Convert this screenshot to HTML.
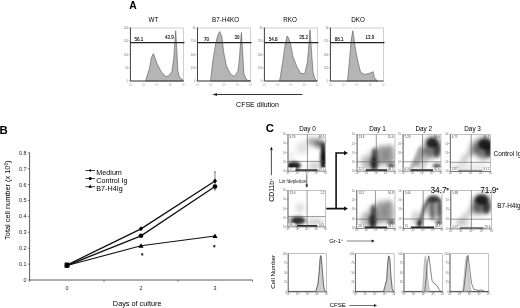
<!DOCTYPE html>
<html><head><meta charset="utf-8"><style>
html,body{margin:0;padding:0;background:#fff;width:520px;height:308px;overflow:hidden}
text{font-family:"Liberation Sans",sans-serif}
svg{display:block;filter:grayscale(1) blur(0.3px)}
</style></head><body>
<svg width="520" height="308" viewBox="0 0 520 308" font-family="'Liberation Sans', sans-serif">
<text x="129.2" y="8.5" font-size="10.3" font-weight="bold" font-family="'Liberation Sans', sans-serif">A</text>
<text x="153.4" y="22.3" font-size="6.3" text-anchor="middle" font-family="'Liberation Sans', sans-serif">WT</text>
<text x="225.6" y="22.3" font-size="6.3" text-anchor="middle" font-family="'Liberation Sans', sans-serif">B7-H4KO</text>
<text x="290.1" y="22.3" font-size="6.3" text-anchor="middle" font-family="'Liberation Sans', sans-serif">RKO</text>
<text x="358.1" y="22.3" font-size="6.3" text-anchor="middle" font-family="'Liberation Sans', sans-serif">DKO</text>
<rect x="130.4" y="28.0" width="53.2" height="53.0" fill="none" stroke="#bbb" stroke-width="0.7"/>
<polygon points="145.5,81.0 149.4,68.8 151.3,58.1 153.3,53.6 154.8,57.1 156.8,63.0 159.1,67.8 162.0,72.7 166.0,76.6 168.9,75.6 171.8,71.7 173.7,59.0 175.1,39.6 175.7,30.8 176.7,47.4 177.8,70.8 179.6,77.6 182.5,79.5 183.5,81.0" fill="#b5b5b5" stroke="#555" stroke-width="0.6"/>
<path d="M130.4 27.5 V81.0 H183.60000000000002" fill="none" stroke="#333" stroke-width="0.9"/>
<line x1="130.4" y1="42.7" x2="184.40000000000003" y2="42.7" stroke="#222" stroke-width="1.2"/>
<line x1="129.20000000000002" y1="28.0" x2="130.4" y2="28.0" stroke="#666" stroke-width="0.5"/>
<text x="128.4" y="29.0" font-size="2.8" fill="#777" text-anchor="end" font-family="'Liberation Sans', sans-serif">200</text>
<line x1="129.20000000000002" y1="41.2" x2="130.4" y2="41.2" stroke="#666" stroke-width="0.5"/>
<text x="128.4" y="42.2" font-size="2.8" fill="#777" text-anchor="end" font-family="'Liberation Sans', sans-serif">150</text>
<line x1="129.20000000000002" y1="54.5" x2="130.4" y2="54.5" stroke="#666" stroke-width="0.5"/>
<text x="128.4" y="55.5" font-size="2.8" fill="#777" text-anchor="end" font-family="'Liberation Sans', sans-serif">100</text>
<line x1="129.20000000000002" y1="67.8" x2="130.4" y2="67.8" stroke="#666" stroke-width="0.5"/>
<text x="128.4" y="68.8" font-size="2.8" fill="#777" text-anchor="end" font-family="'Liberation Sans', sans-serif">50</text>
<line x1="129.20000000000002" y1="81.0" x2="130.4" y2="81.0" stroke="#666" stroke-width="0.5"/>
<text x="128.4" y="82.0" font-size="2.8" fill="#777" text-anchor="end" font-family="'Liberation Sans', sans-serif">0</text>
<text x="130.4" y="86.3" font-size="2.6" fill="#aaa" text-anchor="middle" font-family="'Liberation Sans', sans-serif">10<tspan font-size="1.7" dy="-0.9">0</tspan></text>
<text x="143.7" y="86.3" font-size="2.6" fill="#aaa" text-anchor="middle" font-family="'Liberation Sans', sans-serif">10<tspan font-size="1.7" dy="-0.9">1</tspan></text>
<text x="157.0" y="86.3" font-size="2.6" fill="#aaa" text-anchor="middle" font-family="'Liberation Sans', sans-serif">10<tspan font-size="1.7" dy="-0.9">2</tspan></text>
<text x="170.3" y="86.3" font-size="2.6" fill="#aaa" text-anchor="middle" font-family="'Liberation Sans', sans-serif">10<tspan font-size="1.7" dy="-0.9">3</tspan></text>
<text x="183.6" y="86.3" font-size="2.6" fill="#aaa" text-anchor="middle" font-family="'Liberation Sans', sans-serif">10<tspan font-size="1.7" dy="-0.9">4</tspan></text>
<text x="134.6" y="41.4" font-size="4.5" fill="#111" stroke="#111" stroke-width="0.12" font-family="'Liberation Sans', sans-serif">56.1</text>
<text x="165.0" y="38.8" font-size="4.5" fill="#111" stroke="#111" stroke-width="0.12" font-family="'Liberation Sans', sans-serif">43.9</text>
<rect x="197.5" y="28.0" width="53.2" height="53.0" fill="none" stroke="#bbb" stroke-width="0.7"/>
<polygon points="210.5,81.0 212.9,60.4 215.6,44.2 217.5,36.2 219.6,31.5 221.8,36.2 223.7,52.3 226.4,65.8 230.4,73.9 234.4,76.5 237.9,71.2 239.3,60.4 240.6,41.5 241.4,32.5 242.5,49.6 243.9,73.9 246.5,79.8 250.5,81.0" fill="#b5b5b5" stroke="#555" stroke-width="0.6"/>
<path d="M197.5 27.5 V81.0 H250.7" fill="none" stroke="#333" stroke-width="0.9"/>
<line x1="197.5" y1="42.7" x2="251.5" y2="42.7" stroke="#222" stroke-width="1.2"/>
<line x1="196.3" y1="28.0" x2="197.5" y2="28.0" stroke="#666" stroke-width="0.5"/>
<text x="195.5" y="29.0" font-size="2.8" fill="#777" text-anchor="end" font-family="'Liberation Sans', sans-serif">1k</text>
<line x1="196.3" y1="41.2" x2="197.5" y2="41.2" stroke="#666" stroke-width="0.5"/>
<text x="195.5" y="42.2" font-size="2.8" fill="#777" text-anchor="end" font-family="'Liberation Sans', sans-serif">750</text>
<line x1="196.3" y1="54.5" x2="197.5" y2="54.5" stroke="#666" stroke-width="0.5"/>
<text x="195.5" y="55.5" font-size="2.8" fill="#777" text-anchor="end" font-family="'Liberation Sans', sans-serif">500</text>
<line x1="196.3" y1="67.8" x2="197.5" y2="67.8" stroke="#666" stroke-width="0.5"/>
<text x="195.5" y="68.8" font-size="2.8" fill="#777" text-anchor="end" font-family="'Liberation Sans', sans-serif">250</text>
<line x1="196.3" y1="81.0" x2="197.5" y2="81.0" stroke="#666" stroke-width="0.5"/>
<text x="195.5" y="82.0" font-size="2.8" fill="#777" text-anchor="end" font-family="'Liberation Sans', sans-serif">0</text>
<text x="197.5" y="86.3" font-size="2.6" fill="#aaa" text-anchor="middle" font-family="'Liberation Sans', sans-serif">10<tspan font-size="1.7" dy="-0.9">0</tspan></text>
<text x="210.8" y="86.3" font-size="2.6" fill="#aaa" text-anchor="middle" font-family="'Liberation Sans', sans-serif">10<tspan font-size="1.7" dy="-0.9">1</tspan></text>
<text x="224.1" y="86.3" font-size="2.6" fill="#aaa" text-anchor="middle" font-family="'Liberation Sans', sans-serif">10<tspan font-size="1.7" dy="-0.9">2</tspan></text>
<text x="237.4" y="86.3" font-size="2.6" fill="#aaa" text-anchor="middle" font-family="'Liberation Sans', sans-serif">10<tspan font-size="1.7" dy="-0.9">3</tspan></text>
<text x="250.7" y="86.3" font-size="2.6" fill="#aaa" text-anchor="middle" font-family="'Liberation Sans', sans-serif">10<tspan font-size="1.7" dy="-0.9">4</tspan></text>
<text x="204.0" y="41.4" font-size="4.5" fill="#111" stroke="#111" stroke-width="0.12" font-family="'Liberation Sans', sans-serif">70</text>
<text x="234.5" y="38.8" font-size="4.5" fill="#111" stroke="#111" stroke-width="0.12" font-family="'Liberation Sans', sans-serif">30</text>
<rect x="264.4" y="28.0" width="53.2" height="53.0" fill="none" stroke="#bbb" stroke-width="0.7"/>
<polygon points="279.2,81.0 280.0,78.8 282.7,62.0 285.3,43.8 287.1,36.0 288.3,37.5 290.5,43.8 293.0,56.8 297.0,67.0 300.9,73.6 304.8,73.6 307.4,62.0 309.2,41.2 310.0,29.8 311.2,46.4 313.0,72.3 315.0,78.8 317.0,81.0" fill="#b5b5b5" stroke="#555" stroke-width="0.6"/>
<path d="M264.4 27.5 V81.0 H317.59999999999997" fill="none" stroke="#333" stroke-width="0.9"/>
<line x1="264.4" y1="42.7" x2="318.4" y2="42.7" stroke="#222" stroke-width="1.2"/>
<line x1="263.2" y1="28.0" x2="264.4" y2="28.0" stroke="#666" stroke-width="0.5"/>
<text x="262.4" y="29.0" font-size="2.8" fill="#777" text-anchor="end" font-family="'Liberation Sans', sans-serif">1k</text>
<line x1="263.2" y1="41.2" x2="264.4" y2="41.2" stroke="#666" stroke-width="0.5"/>
<text x="262.4" y="42.2" font-size="2.8" fill="#777" text-anchor="end" font-family="'Liberation Sans', sans-serif">750</text>
<line x1="263.2" y1="54.5" x2="264.4" y2="54.5" stroke="#666" stroke-width="0.5"/>
<text x="262.4" y="55.5" font-size="2.8" fill="#777" text-anchor="end" font-family="'Liberation Sans', sans-serif">500</text>
<line x1="263.2" y1="67.8" x2="264.4" y2="67.8" stroke="#666" stroke-width="0.5"/>
<text x="262.4" y="68.8" font-size="2.8" fill="#777" text-anchor="end" font-family="'Liberation Sans', sans-serif">250</text>
<line x1="263.2" y1="81.0" x2="264.4" y2="81.0" stroke="#666" stroke-width="0.5"/>
<text x="262.4" y="82.0" font-size="2.8" fill="#777" text-anchor="end" font-family="'Liberation Sans', sans-serif">0</text>
<text x="264.4" y="86.3" font-size="2.6" fill="#aaa" text-anchor="middle" font-family="'Liberation Sans', sans-serif">10<tspan font-size="1.7" dy="-0.9">0</tspan></text>
<text x="277.7" y="86.3" font-size="2.6" fill="#aaa" text-anchor="middle" font-family="'Liberation Sans', sans-serif">10<tspan font-size="1.7" dy="-0.9">1</tspan></text>
<text x="291.0" y="86.3" font-size="2.6" fill="#aaa" text-anchor="middle" font-family="'Liberation Sans', sans-serif">10<tspan font-size="1.7" dy="-0.9">2</tspan></text>
<text x="304.3" y="86.3" font-size="2.6" fill="#aaa" text-anchor="middle" font-family="'Liberation Sans', sans-serif">10<tspan font-size="1.7" dy="-0.9">3</tspan></text>
<text x="317.6" y="86.3" font-size="2.6" fill="#aaa" text-anchor="middle" font-family="'Liberation Sans', sans-serif">10<tspan font-size="1.7" dy="-0.9">4</tspan></text>
<text x="268.7" y="41.4" font-size="4.5" fill="#111" stroke="#111" stroke-width="0.12" font-family="'Liberation Sans', sans-serif">54.8</text>
<text x="299.3" y="38.8" font-size="4.5" fill="#111" stroke="#111" stroke-width="0.12" font-family="'Liberation Sans', sans-serif">35.2</text>
<rect x="330.4" y="28.0" width="53.2" height="53.0" fill="none" stroke="#bbb" stroke-width="0.7"/>
<polygon points="346.8,81.0 347.6,79.6 349.4,62.0 351.0,41.2 352.8,30.8 354.0,38.0 355.4,49.0 358.0,62.0 360.6,72.3 364.5,74.4 368.4,73.6 372.3,72.3 373.2,71.5 374.4,77.5 376.2,80.0 377.5,81.0" fill="#b5b5b5" stroke="#555" stroke-width="0.6"/>
<path d="M330.4 27.5 V81.0 H383.59999999999997" fill="none" stroke="#333" stroke-width="0.9"/>
<line x1="330.4" y1="42.7" x2="384.4" y2="42.7" stroke="#222" stroke-width="1.2"/>
<line x1="329.2" y1="28.0" x2="330.4" y2="28.0" stroke="#666" stroke-width="0.5"/>
<text x="328.4" y="29.0" font-size="2.8" fill="#777" text-anchor="end" font-family="'Liberation Sans', sans-serif">1k</text>
<line x1="329.2" y1="41.2" x2="330.4" y2="41.2" stroke="#666" stroke-width="0.5"/>
<text x="328.4" y="42.2" font-size="2.8" fill="#777" text-anchor="end" font-family="'Liberation Sans', sans-serif">750</text>
<line x1="329.2" y1="54.5" x2="330.4" y2="54.5" stroke="#666" stroke-width="0.5"/>
<text x="328.4" y="55.5" font-size="2.8" fill="#777" text-anchor="end" font-family="'Liberation Sans', sans-serif">500</text>
<line x1="329.2" y1="67.8" x2="330.4" y2="67.8" stroke="#666" stroke-width="0.5"/>
<text x="328.4" y="68.8" font-size="2.8" fill="#777" text-anchor="end" font-family="'Liberation Sans', sans-serif">250</text>
<line x1="329.2" y1="81.0" x2="330.4" y2="81.0" stroke="#666" stroke-width="0.5"/>
<text x="328.4" y="82.0" font-size="2.8" fill="#777" text-anchor="end" font-family="'Liberation Sans', sans-serif">0</text>
<text x="330.4" y="86.3" font-size="2.6" fill="#aaa" text-anchor="middle" font-family="'Liberation Sans', sans-serif">10<tspan font-size="1.7" dy="-0.9">0</tspan></text>
<text x="343.7" y="86.3" font-size="2.6" fill="#aaa" text-anchor="middle" font-family="'Liberation Sans', sans-serif">10<tspan font-size="1.7" dy="-0.9">1</tspan></text>
<text x="357.0" y="86.3" font-size="2.6" fill="#aaa" text-anchor="middle" font-family="'Liberation Sans', sans-serif">10<tspan font-size="1.7" dy="-0.9">2</tspan></text>
<text x="370.3" y="86.3" font-size="2.6" fill="#aaa" text-anchor="middle" font-family="'Liberation Sans', sans-serif">10<tspan font-size="1.7" dy="-0.9">3</tspan></text>
<text x="383.6" y="86.3" font-size="2.6" fill="#aaa" text-anchor="middle" font-family="'Liberation Sans', sans-serif">10<tspan font-size="1.7" dy="-0.9">4</tspan></text>
<text x="334.8" y="41.4" font-size="4.5" fill="#111" stroke="#111" stroke-width="0.12" font-family="'Liberation Sans', sans-serif">88.1</text>
<text x="365.5" y="38.8" font-size="4.5" fill="#111" stroke="#111" stroke-width="0.12" font-family="'Liberation Sans', sans-serif">13.9</text>
<line x1="215" y1="94.5" x2="302.5" y2="94.5" stroke="#222" stroke-width="0.9"/>
<polygon points="212.5,94.5 217,92.9 217,96.1" fill="#222"/>
<text x="257.5" y="107" font-size="7" text-anchor="middle" font-family="'Liberation Sans', sans-serif">CFSE dilution</text>
<text x="-0.5" y="133.7" font-size="11.4" font-weight="bold" font-family="'Liberation Sans', sans-serif">B</text>
<path d="M29.6 152.5 V280.0 H252.5" fill="none" stroke="#333" stroke-width="0.8"/>
<line x1="27.8" y1="280.0" x2="29.6" y2="280.0" stroke="#333" stroke-width="0.6"/>
<text x="26.6" y="281.9" font-size="5.4" text-anchor="end" fill="#222" font-family="'Liberation Sans', sans-serif">0</text>
<line x1="27.8" y1="264.1" x2="29.6" y2="264.1" stroke="#333" stroke-width="0.6"/>
<text x="26.6" y="266.0" font-size="5.4" text-anchor="end" fill="#222" font-family="'Liberation Sans', sans-serif">0.1</text>
<line x1="27.8" y1="248.2" x2="29.6" y2="248.2" stroke="#333" stroke-width="0.6"/>
<text x="26.6" y="250.1" font-size="5.4" text-anchor="end" fill="#222" font-family="'Liberation Sans', sans-serif">0.2</text>
<line x1="27.8" y1="232.3" x2="29.6" y2="232.3" stroke="#333" stroke-width="0.6"/>
<text x="26.6" y="234.2" font-size="5.4" text-anchor="end" fill="#222" font-family="'Liberation Sans', sans-serif">0.3</text>
<line x1="27.8" y1="216.4" x2="29.6" y2="216.4" stroke="#333" stroke-width="0.6"/>
<text x="26.6" y="218.3" font-size="5.4" text-anchor="end" fill="#222" font-family="'Liberation Sans', sans-serif">0.4</text>
<line x1="27.8" y1="200.5" x2="29.6" y2="200.5" stroke="#333" stroke-width="0.6"/>
<text x="26.6" y="202.4" font-size="5.4" text-anchor="end" fill="#222" font-family="'Liberation Sans', sans-serif">0.5</text>
<line x1="27.8" y1="184.6" x2="29.6" y2="184.6" stroke="#333" stroke-width="0.6"/>
<text x="26.6" y="186.5" font-size="5.4" text-anchor="end" fill="#222" font-family="'Liberation Sans', sans-serif">0.6</text>
<line x1="27.8" y1="168.7" x2="29.6" y2="168.7" stroke="#333" stroke-width="0.6"/>
<text x="26.6" y="170.6" font-size="5.4" text-anchor="end" fill="#222" font-family="'Liberation Sans', sans-serif">0.7</text>
<line x1="27.8" y1="152.8" x2="29.6" y2="152.8" stroke="#333" stroke-width="0.6"/>
<text x="26.6" y="154.7" font-size="5.4" text-anchor="end" fill="#222" font-family="'Liberation Sans', sans-serif">0.8</text>
<line x1="29.6" y1="280.0" x2="29.6" y2="281.8" stroke="#333" stroke-width="0.6"/>
<line x1="104" y1="280.0" x2="104" y2="281.8" stroke="#333" stroke-width="0.6"/>
<line x1="178" y1="280.0" x2="178" y2="281.8" stroke="#333" stroke-width="0.6"/>
<line x1="252.5" y1="280.0" x2="252.5" y2="281.8" stroke="#333" stroke-width="0.6"/>
<text x="67" y="290" font-size="5.4" text-anchor="middle" fill="#222" font-family="'Liberation Sans', sans-serif">0</text>
<text x="141" y="290" font-size="5.4" text-anchor="middle" fill="#222" font-family="'Liberation Sans', sans-serif">2</text>
<text x="215" y="290" font-size="5.4" text-anchor="middle" fill="#222" font-family="'Liberation Sans', sans-serif">3</text>
<text x="137.2" y="306.3" font-size="7.3" text-anchor="middle" font-family="'Liberation Sans', sans-serif">Days of culture</text>
<text transform="translate(10.3,200.2) rotate(-90)" font-size="7.4" text-anchor="middle" font-family="'Liberation Sans', sans-serif">Total cell number (x 10<tspan font-size="4.5" dy="-2.5">6</tspan><tspan dy="2.5">)</tspan></text>
<polyline points="67.0,265.0 141.0,228.8 215.0,181.0" fill="none" stroke="#111" stroke-width="1.35"/>
<polyline points="67.0,265.5 141.0,235.8 215.0,186.5" fill="none" stroke="#111" stroke-width="1.35"/>
<polyline points="67.0,265.5 141.0,245.8 215.0,236.0" fill="none" stroke="#111" stroke-width="1.1"/>
<line x1="215" y1="172" x2="215" y2="190" stroke="#333" stroke-width="0.6"/>
<line x1="213.8" y1="172" x2="216.2" y2="172" stroke="#333" stroke-width="0.6"/>
<line x1="213.8" y1="190" x2="216.2" y2="190" stroke="#333" stroke-width="0.6"/>
<polygon points="67,262.6 69.04,265 67,267.4 64.96,265" fill="#000"/>
<polygon points="141,226.35 143.04,228.75 141,231.15 138.96,228.75" fill="#000"/>
<polygon points="215,178.6 217.04,181 215,183.4 212.96,181" fill="#000"/>
<circle cx="67" cy="265.5" r="2.35" fill="#000"/>
<circle cx="141" cy="235.75" r="2.35" fill="#000"/>
<circle cx="215" cy="186.5" r="2.35" fill="#000"/>
<polygon points="67,262.9 69.6,267.58 64.4,267.58" fill="#000"/>
<polygon points="141,243.15 143.6,247.83 138.4,247.83" fill="#000"/>
<polygon points="215,233.4 217.6,238.08 212.4,238.08" fill="#000"/>
<rect x="64.6" y="262.6" width="4.8" height="4.8" fill="#000"/>
<path d="M142.2 253.1V255.70000000000002M141.069 253.75L143.331 255.05M141.069 255.05L143.331 253.75" stroke="#111" stroke-width="0.8"/>
<path d="M214.3 244.89999999999998V247.5M213.169 245.54999999999998L215.431 246.85M213.169 246.85L215.431 245.54999999999998" stroke="#111" stroke-width="0.8"/>
<line x1="85.4" y1="170.5" x2="95" y2="170.5" stroke="#111" stroke-width="0.8"/>
<polygon points="90.2,169.0 91.47500000000001,170.5 90.2,172.0 88.925,170.5" fill="#000"/>
<text x="96.3" y="174.7" font-size="7.2" font-family="'Liberation Sans', sans-serif">Medium</text>
<line x1="85.4" y1="178.5" x2="95" y2="178.5" stroke="#111" stroke-width="0.8"/>
<circle cx="90.2" cy="178.5" r="1.5" fill="#000"/>
<text x="96.3" y="182.7" font-size="7.2" font-family="'Liberation Sans', sans-serif">Control Ig</text>
<line x1="85.4" y1="186.7" x2="95" y2="186.7" stroke="#111" stroke-width="0.8"/>
<polygon points="90.2,184.59999999999997 92.0,187.83999999999997 88.4,187.83999999999997" fill="#000"/>
<text x="96.3" y="190.89999999999998" font-size="7.2" font-family="'Liberation Sans', sans-serif">B7-H4Ig</text>
<text x="265.7" y="132.1" font-size="11.4" font-weight="bold" font-family="'Liberation Sans', sans-serif">C</text>
<text x="307.5" y="130.8" font-size="6.4" text-anchor="middle" font-family="'Liberation Sans', sans-serif">Day 0</text>
<text x="377.5" y="130.8" font-size="6.4" text-anchor="middle" font-family="'Liberation Sans', sans-serif">Day 1</text>
<text x="423.8" y="130.8" font-size="6.4" text-anchor="middle" font-family="'Liberation Sans', sans-serif">Day 2</text>
<text x="472.6" y="130.8" font-size="6.4" text-anchor="middle" font-family="'Liberation Sans', sans-serif">Day 3</text>
<defs><filter id="bl0" x="-50%" y="-50%" width="200%" height="200%"><feGaussianBlur stdDeviation="2.4"/></filter><filter id="bl1" x="-50%" y="-50%" width="200%" height="200%"><feGaussianBlur stdDeviation="1.6"/></filter><filter id="bl2" x="-20%" y="-200%" width="140%" height="500%"><feGaussianBlur stdDeviation="0.5"/></filter>
<clipPath id="cr1d0"><rect x="288.0" y="134.5" width="37.60000000000002" height="36.5"/></clipPath>
<clipPath id="cr1d1"><rect x="357.1" y="134.6" width="37.89999999999998" height="36.400000000000006"/></clipPath>
<clipPath id="cr1d2"><rect x="403.1" y="134.6" width="37.89999999999998" height="36.400000000000006"/></clipPath>
<clipPath id="cr1d3"><rect x="450.3" y="134.4" width="40.30000000000001" height="37.0"/></clipPath>
<clipPath id="cr2d0"><rect x="288.0" y="190.5" width="37.5" height="36.30000000000001"/></clipPath>
<clipPath id="cr2d1"><rect x="356.8" y="190.7" width="38.19999999999999" height="37.5"/></clipPath>
<clipPath id="cr2d2"><rect x="403.4" y="190.7" width="38.60000000000002" height="37.5"/></clipPath>
<clipPath id="cr2d3"><rect x="450.8" y="190.4" width="40.80000000000001" height="38.400000000000006"/></clipPath>
</defs>
<g clip-path="url(#cr1d0)"><g filter="url(#bl0)"><ellipse cx="302" cy="148" rx="6" ry="6" fill="#000" fill-opacity="0.12"/><ellipse cx="291" cy="156" rx="3" ry="4" fill="#000" fill-opacity="0.1"/><ellipse cx="313" cy="142" rx="6" ry="4" fill="#000" fill-opacity="0.38" transform="rotate(15 313 142)"/><ellipse cx="319.5" cy="143.5" rx="3.5" ry="4.5" fill="#000" fill-opacity="0.6"/><ellipse cx="317" cy="166" rx="6" ry="4" fill="#000" fill-opacity="0.15"/><ellipse cx="312" cy="166" rx="6" ry="3" fill="#000" fill-opacity="0.12"/></g><g filter="url(#bl1)"><ellipse cx="294" cy="165.5" rx="7" ry="4" fill="#000" fill-opacity="0.85"/><ellipse cx="290" cy="166" rx="3" ry="3" fill="#000" fill-opacity="0.5"/><ellipse cx="323.2" cy="158" rx="2.7" ry="12.5" fill="#000" fill-opacity="1"/><ellipse cx="323" cy="146" rx="2.2" ry="4" fill="#000" fill-opacity="0.75"/></g></g><rect x="294" y="169.3" width="26" height="1.7" fill="#000" fill-opacity="0.85" filter="url(#bl2)"/>
<rect x="288.0" y="134.5" width="37.60000000000002" height="36.5" fill="none" stroke="#999" stroke-width="0.6"/>
<path d="M288.0 134.5 V171.0 H325.6" fill="none" stroke="#444" stroke-width="0.7"/>
<line x1="307.4" y1="134.5" x2="307.4" y2="171.0" stroke="#555" stroke-width="0.6"/>
<line x1="288.0" y1="161.4" x2="325.6" y2="161.4" stroke="#555" stroke-width="0.6"/>
<line x1="287.0" y1="171.0" x2="288.0" y2="171.0" stroke="#666" stroke-width="0.4"/>
<text x="286.7" y="171.8" font-size="2.6" fill="#666" text-anchor="end" font-family="'Liberation Sans', sans-serif">10<tspan font-size="1.5" dy="-0.8">0</tspan></text>
<line x1="288.0" y1="171.0" x2="288.0" y2="172.0" stroke="#666" stroke-width="0.4"/>
<text x="288.0" y="174.0" font-size="2.6" fill="#666" text-anchor="middle" font-family="'Liberation Sans', sans-serif">10<tspan font-size="1.5" dy="-0.8">0</tspan></text>
<line x1="287.0" y1="161.9" x2="288.0" y2="161.9" stroke="#666" stroke-width="0.4"/>
<text x="286.7" y="162.7" font-size="2.6" fill="#666" text-anchor="end" font-family="'Liberation Sans', sans-serif">10<tspan font-size="1.5" dy="-0.8">1</tspan></text>
<line x1="297.4" y1="171.0" x2="297.4" y2="172.0" stroke="#666" stroke-width="0.4"/>
<text x="297.4" y="174.0" font-size="2.6" fill="#666" text-anchor="middle" font-family="'Liberation Sans', sans-serif">10<tspan font-size="1.5" dy="-0.8">1</tspan></text>
<line x1="287.0" y1="152.8" x2="288.0" y2="152.8" stroke="#666" stroke-width="0.4"/>
<text x="286.7" y="153.6" font-size="2.6" fill="#666" text-anchor="end" font-family="'Liberation Sans', sans-serif">10<tspan font-size="1.5" dy="-0.8">2</tspan></text>
<line x1="306.8" y1="171.0" x2="306.8" y2="172.0" stroke="#666" stroke-width="0.4"/>
<text x="306.8" y="174.0" font-size="2.6" fill="#666" text-anchor="middle" font-family="'Liberation Sans', sans-serif">10<tspan font-size="1.5" dy="-0.8">2</tspan></text>
<line x1="287.0" y1="143.6" x2="288.0" y2="143.6" stroke="#666" stroke-width="0.4"/>
<text x="286.7" y="144.4" font-size="2.6" fill="#666" text-anchor="end" font-family="'Liberation Sans', sans-serif">10<tspan font-size="1.5" dy="-0.8">3</tspan></text>
<line x1="316.2" y1="171.0" x2="316.2" y2="172.0" stroke="#666" stroke-width="0.4"/>
<text x="316.2" y="174.0" font-size="2.6" fill="#666" text-anchor="middle" font-family="'Liberation Sans', sans-serif">10<tspan font-size="1.5" dy="-0.8">3</tspan></text>
<line x1="287.0" y1="134.5" x2="288.0" y2="134.5" stroke="#666" stroke-width="0.4"/>
<text x="286.7" y="135.3" font-size="2.6" fill="#666" text-anchor="end" font-family="'Liberation Sans', sans-serif">10<tspan font-size="1.5" dy="-0.8">4</tspan></text>
<line x1="325.6" y1="171.0" x2="325.6" y2="172.0" stroke="#666" stroke-width="0.4"/>
<text x="325.6" y="174.0" font-size="2.6" fill="#666" text-anchor="middle" font-family="'Liberation Sans', sans-serif">10<tspan font-size="1.5" dy="-0.8">4</tspan></text>
<text x="289.5" y="138.0" font-size="3" fill="#444" font-family="'Liberation Sans', sans-serif">3.76</text>
<text x="324.40000000000003" y="138.0" font-size="3" fill="#444" text-anchor="end" font-family="'Liberation Sans', sans-serif">48.5</text>
<rect x="288.5" y="167.4" width="7" height="3.2" fill="#fff"/>
<text x="289.5" y="169.8" font-size="3" fill="#444" font-family="'Liberation Sans', sans-serif">27</text>
<rect x="317.6" y="167.4" width="7.5" height="3.2" fill="#fff"/>
<text x="324.40000000000003" y="169.8" font-size="3" fill="#444" text-anchor="end" font-family="'Liberation Sans', sans-serif">18.1</text>
<g clip-path="url(#cr1d1)"><g filter="url(#bl0)"><ellipse cx="366" cy="163" rx="5" ry="8" fill="#000" fill-opacity="0.25"/><ellipse cx="381" cy="156" rx="6" ry="10" fill="#000" fill-opacity="0.35"/><ellipse cx="389.5" cy="156" rx="5.5" ry="11" fill="#000" fill-opacity="0.38"/><ellipse cx="385" cy="148" rx="8" ry="3" fill="#000" fill-opacity="0.15"/><ellipse cx="374" cy="160" rx="5" ry="11" fill="#000" fill-opacity="0.35"/></g><g filter="url(#bl1)"><ellipse cx="374" cy="163" rx="3.4" ry="7" fill="#000" fill-opacity="0.75"/><ellipse cx="374.5" cy="153" rx="2.3" ry="5" fill="#000" fill-opacity="0.55"/><ellipse cx="391.5" cy="166" rx="3.5" ry="2.5" fill="#000" fill-opacity="0.6"/></g></g><rect x="366" y="169.3" width="23" height="1.7" fill="#000" fill-opacity="0.9" filter="url(#bl2)"/>
<rect x="357.1" y="134.6" width="37.89999999999998" height="36.400000000000006" fill="none" stroke="#999" stroke-width="0.6"/>
<path d="M357.1 134.6 V171.0 H395.0" fill="none" stroke="#444" stroke-width="0.7"/>
<line x1="376.3" y1="134.6" x2="376.3" y2="171.0" stroke="#555" stroke-width="0.6"/>
<line x1="357.1" y1="161.8" x2="395.0" y2="161.8" stroke="#555" stroke-width="0.6"/>
<line x1="356.1" y1="171.0" x2="357.1" y2="171.0" stroke="#666" stroke-width="0.4"/>
<text x="355.8" y="171.8" font-size="2.6" fill="#666" text-anchor="end" font-family="'Liberation Sans', sans-serif">10<tspan font-size="1.5" dy="-0.8">0</tspan></text>
<line x1="357.1" y1="171.0" x2="357.1" y2="172.0" stroke="#666" stroke-width="0.4"/>
<text x="357.1" y="174.0" font-size="2.6" fill="#666" text-anchor="middle" font-family="'Liberation Sans', sans-serif">10<tspan font-size="1.5" dy="-0.8">0</tspan></text>
<line x1="356.1" y1="161.9" x2="357.1" y2="161.9" stroke="#666" stroke-width="0.4"/>
<text x="355.8" y="162.7" font-size="2.6" fill="#666" text-anchor="end" font-family="'Liberation Sans', sans-serif">10<tspan font-size="1.5" dy="-0.8">1</tspan></text>
<line x1="366.6" y1="171.0" x2="366.6" y2="172.0" stroke="#666" stroke-width="0.4"/>
<text x="366.6" y="174.0" font-size="2.6" fill="#666" text-anchor="middle" font-family="'Liberation Sans', sans-serif">10<tspan font-size="1.5" dy="-0.8">1</tspan></text>
<line x1="356.1" y1="152.8" x2="357.1" y2="152.8" stroke="#666" stroke-width="0.4"/>
<text x="355.8" y="153.6" font-size="2.6" fill="#666" text-anchor="end" font-family="'Liberation Sans', sans-serif">10<tspan font-size="1.5" dy="-0.8">2</tspan></text>
<line x1="376.1" y1="171.0" x2="376.1" y2="172.0" stroke="#666" stroke-width="0.4"/>
<text x="376.1" y="174.0" font-size="2.6" fill="#666" text-anchor="middle" font-family="'Liberation Sans', sans-serif">10<tspan font-size="1.5" dy="-0.8">2</tspan></text>
<line x1="356.1" y1="143.7" x2="357.1" y2="143.7" stroke="#666" stroke-width="0.4"/>
<text x="355.8" y="144.5" font-size="2.6" fill="#666" text-anchor="end" font-family="'Liberation Sans', sans-serif">10<tspan font-size="1.5" dy="-0.8">3</tspan></text>
<line x1="385.5" y1="171.0" x2="385.5" y2="172.0" stroke="#666" stroke-width="0.4"/>
<text x="385.5" y="174.0" font-size="2.6" fill="#666" text-anchor="middle" font-family="'Liberation Sans', sans-serif">10<tspan font-size="1.5" dy="-0.8">3</tspan></text>
<line x1="356.1" y1="134.6" x2="357.1" y2="134.6" stroke="#666" stroke-width="0.4"/>
<text x="355.8" y="135.4" font-size="2.6" fill="#666" text-anchor="end" font-family="'Liberation Sans', sans-serif">10<tspan font-size="1.5" dy="-0.8">4</tspan></text>
<line x1="395.0" y1="171.0" x2="395.0" y2="172.0" stroke="#666" stroke-width="0.4"/>
<text x="395.0" y="174.0" font-size="2.6" fill="#666" text-anchor="middle" font-family="'Liberation Sans', sans-serif">10<tspan font-size="1.5" dy="-0.8">4</tspan></text>
<text x="358.6" y="138.1" font-size="3" fill="#444" font-family="'Liberation Sans', sans-serif">13.8</text>
<text x="393.8" y="138.1" font-size="3" fill="#444" text-anchor="end" font-family="'Liberation Sans', sans-serif">15.6</text>
<rect x="357.6" y="167.4" width="7" height="3.2" fill="#fff"/>
<text x="358.6" y="169.8" font-size="3" fill="#444" font-family="'Liberation Sans', sans-serif">22.1</text>
<rect x="387.0" y="167.4" width="7.5" height="3.2" fill="#fff"/>
<text x="393.8" y="169.8" font-size="3" fill="#444" text-anchor="end" font-family="'Liberation Sans', sans-serif">48.5</text>
<g clip-path="url(#cr1d2)"><g filter="url(#bl0)"><ellipse cx="425" cy="155" rx="5" ry="7" fill="#000" fill-opacity="0.3"/><ellipse cx="421" cy="165" rx="6" ry="4" fill="#000" fill-opacity="0.2"/><ellipse cx="433" cy="147" rx="9" ry="11" fill="#000" fill-opacity="0.5"/></g><g filter="url(#bl1)"><path d="M411.5 168 L420.5 147.5" fill="none" stroke="#000" stroke-width="3" stroke-opacity="0.4" stroke-linecap="round" stroke-linejoin="round"/><path d="M416.5 165 L424 150" fill="none" stroke="#000" stroke-width="3" stroke-opacity="0.35" stroke-linecap="round" stroke-linejoin="round"/><ellipse cx="432" cy="143" rx="5.5" ry="5" fill="#000" fill-opacity="0.7"/><ellipse cx="437" cy="150" rx="3.5" ry="7.5" fill="#000" fill-opacity="0.5"/><ellipse cx="437" cy="166" rx="4.5" ry="2.5" fill="#000" fill-opacity="0.65"/></g></g><rect x="410" y="169.3" width="23" height="1.7" fill="#000" fill-opacity="0.9" filter="url(#bl2)"/>
<rect x="403.1" y="134.6" width="37.89999999999998" height="36.400000000000006" fill="none" stroke="#999" stroke-width="0.6"/>
<path d="M403.1 134.6 V171.0 H441.0" fill="none" stroke="#444" stroke-width="0.7"/>
<line x1="422.5" y1="134.6" x2="422.5" y2="171.0" stroke="#555" stroke-width="0.6"/>
<line x1="403.1" y1="161.8" x2="441.0" y2="161.8" stroke="#555" stroke-width="0.6"/>
<line x1="402.1" y1="171.0" x2="403.1" y2="171.0" stroke="#666" stroke-width="0.4"/>
<text x="401.8" y="171.8" font-size="2.6" fill="#666" text-anchor="end" font-family="'Liberation Sans', sans-serif">10<tspan font-size="1.5" dy="-0.8">0</tspan></text>
<line x1="403.1" y1="171.0" x2="403.1" y2="172.0" stroke="#666" stroke-width="0.4"/>
<text x="403.1" y="174.0" font-size="2.6" fill="#666" text-anchor="middle" font-family="'Liberation Sans', sans-serif">10<tspan font-size="1.5" dy="-0.8">0</tspan></text>
<line x1="402.1" y1="161.9" x2="403.1" y2="161.9" stroke="#666" stroke-width="0.4"/>
<text x="401.8" y="162.7" font-size="2.6" fill="#666" text-anchor="end" font-family="'Liberation Sans', sans-serif">10<tspan font-size="1.5" dy="-0.8">1</tspan></text>
<line x1="412.6" y1="171.0" x2="412.6" y2="172.0" stroke="#666" stroke-width="0.4"/>
<text x="412.6" y="174.0" font-size="2.6" fill="#666" text-anchor="middle" font-family="'Liberation Sans', sans-serif">10<tspan font-size="1.5" dy="-0.8">1</tspan></text>
<line x1="402.1" y1="152.8" x2="403.1" y2="152.8" stroke="#666" stroke-width="0.4"/>
<text x="401.8" y="153.6" font-size="2.6" fill="#666" text-anchor="end" font-family="'Liberation Sans', sans-serif">10<tspan font-size="1.5" dy="-0.8">2</tspan></text>
<line x1="422.1" y1="171.0" x2="422.1" y2="172.0" stroke="#666" stroke-width="0.4"/>
<text x="422.1" y="174.0" font-size="2.6" fill="#666" text-anchor="middle" font-family="'Liberation Sans', sans-serif">10<tspan font-size="1.5" dy="-0.8">2</tspan></text>
<line x1="402.1" y1="143.7" x2="403.1" y2="143.7" stroke="#666" stroke-width="0.4"/>
<text x="401.8" y="144.5" font-size="2.6" fill="#666" text-anchor="end" font-family="'Liberation Sans', sans-serif">10<tspan font-size="1.5" dy="-0.8">3</tspan></text>
<line x1="431.5" y1="171.0" x2="431.5" y2="172.0" stroke="#666" stroke-width="0.4"/>
<text x="431.5" y="174.0" font-size="2.6" fill="#666" text-anchor="middle" font-family="'Liberation Sans', sans-serif">10<tspan font-size="1.5" dy="-0.8">3</tspan></text>
<line x1="402.1" y1="134.6" x2="403.1" y2="134.6" stroke="#666" stroke-width="0.4"/>
<text x="401.8" y="135.4" font-size="2.6" fill="#666" text-anchor="end" font-family="'Liberation Sans', sans-serif">10<tspan font-size="1.5" dy="-0.8">4</tspan></text>
<line x1="441.0" y1="171.0" x2="441.0" y2="172.0" stroke="#666" stroke-width="0.4"/>
<text x="441.0" y="174.0" font-size="2.6" fill="#666" text-anchor="middle" font-family="'Liberation Sans', sans-serif">10<tspan font-size="1.5" dy="-0.8">4</tspan></text>
<text x="404.6" y="138.1" font-size="3" fill="#444" font-family="'Liberation Sans', sans-serif">7.28</text>
<text x="439.8" y="138.1" font-size="3" fill="#444" text-anchor="end" font-family="'Liberation Sans', sans-serif">56.6</text>
<rect x="403.6" y="167.4" width="7" height="3.2" fill="#fff"/>
<text x="404.6" y="169.8" font-size="3" fill="#444" font-family="'Liberation Sans', sans-serif">6.56</text>
<rect x="433.0" y="167.4" width="7.5" height="3.2" fill="#fff"/>
<text x="439.8" y="169.8" font-size="3" fill="#444" text-anchor="end" font-family="'Liberation Sans', sans-serif">82.6</text>
<g clip-path="url(#cr1d3)"><g filter="url(#bl0)"><path d="M463 160 L474 150" fill="none" stroke="#000" stroke-width="5" stroke-opacity="0.25" stroke-linecap="round" stroke-linejoin="round"/><ellipse cx="484" cy="148" rx="10" ry="11" fill="#000" fill-opacity="0.55"/><ellipse cx="474" cy="148" rx="5" ry="7" fill="#000" fill-opacity="0.25"/><ellipse cx="460" cy="167" rx="9" ry="4" fill="#000" fill-opacity="0.12"/><ellipse cx="478" cy="167" rx="10" ry="3" fill="#000" fill-opacity="0.1"/></g><g filter="url(#bl1)"><ellipse cx="485" cy="144.5" rx="6.5" ry="5.5" fill="#000" fill-opacity="0.75"/><ellipse cx="488.5" cy="151" rx="3.5" ry="6" fill="#000" fill-opacity="0.55"/></g></g><rect x="458" y="169.70000000000002" width="28" height="1.7" fill="#000" fill-opacity="0.35" filter="url(#bl2)"/>
<rect x="450.3" y="134.4" width="40.30000000000001" height="37.0" fill="none" stroke="#999" stroke-width="0.6"/>
<path d="M450.3 134.4 V171.4 H490.6" fill="none" stroke="#444" stroke-width="0.7"/>
<line x1="471.2" y1="134.4" x2="471.2" y2="171.4" stroke="#555" stroke-width="0.6"/>
<line x1="450.3" y1="162.3" x2="490.6" y2="162.3" stroke="#555" stroke-width="0.6"/>
<line x1="449.3" y1="171.4" x2="450.3" y2="171.4" stroke="#666" stroke-width="0.4"/>
<text x="449.0" y="172.2" font-size="2.6" fill="#666" text-anchor="end" font-family="'Liberation Sans', sans-serif">10<tspan font-size="1.5" dy="-0.8">0</tspan></text>
<line x1="450.3" y1="171.4" x2="450.3" y2="172.4" stroke="#666" stroke-width="0.4"/>
<text x="450.3" y="174.4" font-size="2.6" fill="#666" text-anchor="middle" font-family="'Liberation Sans', sans-serif">10<tspan font-size="1.5" dy="-0.8">0</tspan></text>
<line x1="449.3" y1="162.2" x2="450.3" y2="162.2" stroke="#666" stroke-width="0.4"/>
<text x="449.0" y="163.0" font-size="2.6" fill="#666" text-anchor="end" font-family="'Liberation Sans', sans-serif">10<tspan font-size="1.5" dy="-0.8">1</tspan></text>
<line x1="460.4" y1="171.4" x2="460.4" y2="172.4" stroke="#666" stroke-width="0.4"/>
<text x="460.4" y="174.4" font-size="2.6" fill="#666" text-anchor="middle" font-family="'Liberation Sans', sans-serif">10<tspan font-size="1.5" dy="-0.8">1</tspan></text>
<line x1="449.3" y1="152.9" x2="450.3" y2="152.9" stroke="#666" stroke-width="0.4"/>
<text x="449.0" y="153.7" font-size="2.6" fill="#666" text-anchor="end" font-family="'Liberation Sans', sans-serif">10<tspan font-size="1.5" dy="-0.8">2</tspan></text>
<line x1="470.5" y1="171.4" x2="470.5" y2="172.4" stroke="#666" stroke-width="0.4"/>
<text x="470.5" y="174.4" font-size="2.6" fill="#666" text-anchor="middle" font-family="'Liberation Sans', sans-serif">10<tspan font-size="1.5" dy="-0.8">2</tspan></text>
<line x1="449.3" y1="143.7" x2="450.3" y2="143.7" stroke="#666" stroke-width="0.4"/>
<text x="449.0" y="144.5" font-size="2.6" fill="#666" text-anchor="end" font-family="'Liberation Sans', sans-serif">10<tspan font-size="1.5" dy="-0.8">3</tspan></text>
<line x1="480.5" y1="171.4" x2="480.5" y2="172.4" stroke="#666" stroke-width="0.4"/>
<text x="480.5" y="174.4" font-size="2.6" fill="#666" text-anchor="middle" font-family="'Liberation Sans', sans-serif">10<tspan font-size="1.5" dy="-0.8">3</tspan></text>
<line x1="449.3" y1="134.4" x2="450.3" y2="134.4" stroke="#666" stroke-width="0.4"/>
<text x="449.0" y="135.2" font-size="2.6" fill="#666" text-anchor="end" font-family="'Liberation Sans', sans-serif">10<tspan font-size="1.5" dy="-0.8">4</tspan></text>
<line x1="490.6" y1="171.4" x2="490.6" y2="172.4" stroke="#666" stroke-width="0.4"/>
<text x="490.6" y="174.4" font-size="2.6" fill="#666" text-anchor="middle" font-family="'Liberation Sans', sans-serif">10<tspan font-size="1.5" dy="-0.8">4</tspan></text>
<text x="451.8" y="137.9" font-size="3" fill="#444" font-family="'Liberation Sans', sans-serif">4.71</text>
<text x="489.40000000000003" y="137.9" font-size="3" fill="#444" text-anchor="end" font-family="'Liberation Sans', sans-serif">80.1</text>
<rect x="450.8" y="167.8" width="7" height="3.2" fill="#fff"/>
<text x="451.8" y="170.20000000000002" font-size="3" fill="#444" font-family="'Liberation Sans', sans-serif">2.87</text>
<rect x="482.6" y="167.8" width="7.5" height="3.2" fill="#fff"/>
<text x="489.40000000000003" y="170.20000000000002" font-size="3" fill="#444" text-anchor="end" font-family="'Liberation Sans', sans-serif">9.12</text>
<g clip-path="url(#cr2d0)"><g filter="url(#bl0)"><ellipse cx="300" cy="208" rx="4" ry="5" fill="#000" fill-opacity="0.15"/><ellipse cx="292" cy="221" rx="4" ry="3.5" fill="#000" fill-opacity="0.45"/><ellipse cx="315" cy="222" rx="9" ry="2.5" fill="#000" fill-opacity="0.25"/></g><g filter="url(#bl1)"><ellipse cx="298.5" cy="220.5" rx="7" ry="4" fill="#000" fill-opacity="0.8"/></g></g><rect x="297" y="225.10000000000002" width="20.5" height="1.7" fill="#000" fill-opacity="0.9" filter="url(#bl2)"/>
<rect x="288.0" y="190.5" width="37.5" height="36.30000000000001" fill="none" stroke="#999" stroke-width="0.6"/>
<path d="M288.0 190.5 V226.8 H325.5" fill="none" stroke="#444" stroke-width="0.7"/>
<line x1="307.1" y1="190.5" x2="307.1" y2="226.8" stroke="#555" stroke-width="0.6"/>
<line x1="288.0" y1="216.6" x2="325.5" y2="216.6" stroke="#555" stroke-width="0.6"/>
<line x1="287.0" y1="226.8" x2="288.0" y2="226.8" stroke="#666" stroke-width="0.4"/>
<text x="286.7" y="227.6" font-size="2.6" fill="#666" text-anchor="end" font-family="'Liberation Sans', sans-serif">10<tspan font-size="1.5" dy="-0.8">0</tspan></text>
<line x1="288.0" y1="226.8" x2="288.0" y2="227.8" stroke="#666" stroke-width="0.4"/>
<text x="288.0" y="229.8" font-size="2.6" fill="#666" text-anchor="middle" font-family="'Liberation Sans', sans-serif">10<tspan font-size="1.5" dy="-0.8">0</tspan></text>
<line x1="287.0" y1="217.7" x2="288.0" y2="217.7" stroke="#666" stroke-width="0.4"/>
<text x="286.7" y="218.5" font-size="2.6" fill="#666" text-anchor="end" font-family="'Liberation Sans', sans-serif">10<tspan font-size="1.5" dy="-0.8">1</tspan></text>
<line x1="297.4" y1="226.8" x2="297.4" y2="227.8" stroke="#666" stroke-width="0.4"/>
<text x="297.4" y="229.8" font-size="2.6" fill="#666" text-anchor="middle" font-family="'Liberation Sans', sans-serif">10<tspan font-size="1.5" dy="-0.8">1</tspan></text>
<line x1="287.0" y1="208.7" x2="288.0" y2="208.7" stroke="#666" stroke-width="0.4"/>
<text x="286.7" y="209.5" font-size="2.6" fill="#666" text-anchor="end" font-family="'Liberation Sans', sans-serif">10<tspan font-size="1.5" dy="-0.8">2</tspan></text>
<line x1="306.8" y1="226.8" x2="306.8" y2="227.8" stroke="#666" stroke-width="0.4"/>
<text x="306.8" y="229.8" font-size="2.6" fill="#666" text-anchor="middle" font-family="'Liberation Sans', sans-serif">10<tspan font-size="1.5" dy="-0.8">2</tspan></text>
<line x1="287.0" y1="199.6" x2="288.0" y2="199.6" stroke="#666" stroke-width="0.4"/>
<text x="286.7" y="200.4" font-size="2.6" fill="#666" text-anchor="end" font-family="'Liberation Sans', sans-serif">10<tspan font-size="1.5" dy="-0.8">3</tspan></text>
<line x1="316.1" y1="226.8" x2="316.1" y2="227.8" stroke="#666" stroke-width="0.4"/>
<text x="316.1" y="229.8" font-size="2.6" fill="#666" text-anchor="middle" font-family="'Liberation Sans', sans-serif">10<tspan font-size="1.5" dy="-0.8">3</tspan></text>
<line x1="287.0" y1="190.5" x2="288.0" y2="190.5" stroke="#666" stroke-width="0.4"/>
<text x="286.7" y="191.3" font-size="2.6" fill="#666" text-anchor="end" font-family="'Liberation Sans', sans-serif">10<tspan font-size="1.5" dy="-0.8">4</tspan></text>
<line x1="325.5" y1="226.8" x2="325.5" y2="227.8" stroke="#666" stroke-width="0.4"/>
<text x="325.5" y="229.8" font-size="2.6" fill="#666" text-anchor="middle" font-family="'Liberation Sans', sans-serif">10<tspan font-size="1.5" dy="-0.8">4</tspan></text>
<text x="289.5" y="194.0" font-size="3" fill="#444" font-family="'Liberation Sans', sans-serif">13.0</text>
<text x="324.3" y="194.0" font-size="3" fill="#444" text-anchor="end" font-family="'Liberation Sans', sans-serif">1.2</text>
<rect x="288.5" y="223.20000000000002" width="7" height="3.2" fill="#fff"/>
<text x="289.5" y="225.60000000000002" font-size="3" fill="#444" font-family="'Liberation Sans', sans-serif">86.2</text>
<rect x="317.5" y="223.20000000000002" width="7.5" height="3.2" fill="#fff"/>
<text x="324.3" y="225.60000000000002" font-size="3" fill="#444" text-anchor="end" font-family="'Liberation Sans', sans-serif">14.5</text>
<g clip-path="url(#cr2d1)"><g filter="url(#bl0)"><ellipse cx="365.5" cy="220" rx="5" ry="8" fill="#000" fill-opacity="0.25"/><ellipse cx="380" cy="213" rx="6" ry="11" fill="#000" fill-opacity="0.35"/><ellipse cx="388.5" cy="212" rx="5.5" ry="12" fill="#000" fill-opacity="0.38"/><ellipse cx="384" cy="203" rx="8" ry="3" fill="#000" fill-opacity="0.15"/><ellipse cx="372.8" cy="217" rx="5" ry="11" fill="#000" fill-opacity="0.35"/></g><g filter="url(#bl1)"><ellipse cx="372.6" cy="221" rx="3.5" ry="7" fill="#000" fill-opacity="0.75"/><ellipse cx="373.3" cy="210" rx="2.3" ry="5.5" fill="#000" fill-opacity="0.55"/><ellipse cx="391.5" cy="222.5" rx="3.5" ry="2.5" fill="#000" fill-opacity="0.6"/></g></g><rect x="364.5" y="226.5" width="24.5" height="1.7" fill="#000" fill-opacity="0.9" filter="url(#bl2)"/>
<rect x="356.8" y="190.7" width="38.19999999999999" height="37.5" fill="none" stroke="#999" stroke-width="0.6"/>
<path d="M356.8 190.7 V228.2 H395.0" fill="none" stroke="#444" stroke-width="0.7"/>
<line x1="375.4" y1="190.7" x2="375.4" y2="228.2" stroke="#555" stroke-width="0.6"/>
<line x1="356.8" y1="219.2" x2="395.0" y2="219.2" stroke="#555" stroke-width="0.6"/>
<line x1="355.8" y1="228.2" x2="356.8" y2="228.2" stroke="#666" stroke-width="0.4"/>
<text x="355.5" y="229.0" font-size="2.6" fill="#666" text-anchor="end" font-family="'Liberation Sans', sans-serif">10<tspan font-size="1.5" dy="-0.8">0</tspan></text>
<line x1="356.8" y1="228.2" x2="356.8" y2="229.2" stroke="#666" stroke-width="0.4"/>
<text x="356.8" y="231.2" font-size="2.6" fill="#666" text-anchor="middle" font-family="'Liberation Sans', sans-serif">10<tspan font-size="1.5" dy="-0.8">0</tspan></text>
<line x1="355.8" y1="218.8" x2="356.8" y2="218.8" stroke="#666" stroke-width="0.4"/>
<text x="355.5" y="219.6" font-size="2.6" fill="#666" text-anchor="end" font-family="'Liberation Sans', sans-serif">10<tspan font-size="1.5" dy="-0.8">1</tspan></text>
<line x1="366.4" y1="228.2" x2="366.4" y2="229.2" stroke="#666" stroke-width="0.4"/>
<text x="366.4" y="231.2" font-size="2.6" fill="#666" text-anchor="middle" font-family="'Liberation Sans', sans-serif">10<tspan font-size="1.5" dy="-0.8">1</tspan></text>
<line x1="355.8" y1="209.4" x2="356.8" y2="209.4" stroke="#666" stroke-width="0.4"/>
<text x="355.5" y="210.2" font-size="2.6" fill="#666" text-anchor="end" font-family="'Liberation Sans', sans-serif">10<tspan font-size="1.5" dy="-0.8">2</tspan></text>
<line x1="375.9" y1="228.2" x2="375.9" y2="229.2" stroke="#666" stroke-width="0.4"/>
<text x="375.9" y="231.2" font-size="2.6" fill="#666" text-anchor="middle" font-family="'Liberation Sans', sans-serif">10<tspan font-size="1.5" dy="-0.8">2</tspan></text>
<line x1="355.8" y1="200.1" x2="356.8" y2="200.1" stroke="#666" stroke-width="0.4"/>
<text x="355.5" y="200.9" font-size="2.6" fill="#666" text-anchor="end" font-family="'Liberation Sans', sans-serif">10<tspan font-size="1.5" dy="-0.8">3</tspan></text>
<line x1="385.4" y1="228.2" x2="385.4" y2="229.2" stroke="#666" stroke-width="0.4"/>
<text x="385.4" y="231.2" font-size="2.6" fill="#666" text-anchor="middle" font-family="'Liberation Sans', sans-serif">10<tspan font-size="1.5" dy="-0.8">3</tspan></text>
<line x1="355.8" y1="190.7" x2="356.8" y2="190.7" stroke="#666" stroke-width="0.4"/>
<text x="355.5" y="191.5" font-size="2.6" fill="#666" text-anchor="end" font-family="'Liberation Sans', sans-serif">10<tspan font-size="1.5" dy="-0.8">4</tspan></text>
<line x1="395.0" y1="228.2" x2="395.0" y2="229.2" stroke="#666" stroke-width="0.4"/>
<text x="395.0" y="231.2" font-size="2.6" fill="#666" text-anchor="middle" font-family="'Liberation Sans', sans-serif">10<tspan font-size="1.5" dy="-0.8">4</tspan></text>
<text x="358.3" y="194.2" font-size="3" fill="#444" font-family="'Liberation Sans', sans-serif">13.2</text>
<text x="393.8" y="194.2" font-size="3" fill="#444" text-anchor="end" font-family="'Liberation Sans', sans-serif">16.8</text>
<rect x="357.3" y="224.6" width="7" height="3.2" fill="#fff"/>
<text x="358.3" y="227.0" font-size="3" fill="#444" font-family="'Liberation Sans', sans-serif">26.1</text>
<rect x="387.0" y="224.6" width="7.5" height="3.2" fill="#fff"/>
<text x="393.8" y="227.0" font-size="3" fill="#444" text-anchor="end" font-family="'Liberation Sans', sans-serif">43.1</text>
<g clip-path="url(#cr2d2)"><g filter="url(#bl0)"><ellipse cx="416" cy="218" rx="4" ry="7" fill="#000" fill-opacity="0.2"/><ellipse cx="434" cy="208" rx="8" ry="11" fill="#000" fill-opacity="0.4"/></g><g filter="url(#bl1)"><path d="M419 226 L422 215 L424.5 207 L428 201" fill="none" stroke="#000" stroke-width="3.4" stroke-opacity="0.6" stroke-linecap="round" stroke-linejoin="round"/><path d="M431.5 203 L432.5 219" fill="none" stroke="#000" stroke-width="2.4" stroke-opacity="0.45" stroke-linecap="round" stroke-linejoin="round"/><ellipse cx="433.5" cy="199" rx="6" ry="3.5" fill="#000" fill-opacity="0.7"/><path d="M439.8 200 L440.2 218" fill="none" stroke="#000" stroke-width="3" stroke-opacity="0.65" stroke-linecap="round" stroke-linejoin="round"/><ellipse cx="439" cy="222.5" rx="3.5" ry="2.2" fill="#000" fill-opacity="0.7"/><ellipse cx="419.5" cy="223" rx="3" ry="3" fill="#000" fill-opacity="0.65"/></g></g><rect x="409" y="226.5" width="26.5" height="1.7" fill="#000" fill-opacity="0.9" filter="url(#bl2)"/>
<rect x="403.4" y="190.7" width="38.60000000000002" height="37.5" fill="none" stroke="#999" stroke-width="0.6"/>
<path d="M403.4 190.7 V228.2 H442.0" fill="none" stroke="#444" stroke-width="0.7"/>
<line x1="423.2" y1="190.7" x2="423.2" y2="228.2" stroke="#555" stroke-width="0.6"/>
<line x1="403.4" y1="219.0" x2="442.0" y2="219.0" stroke="#555" stroke-width="0.6"/>
<line x1="402.4" y1="228.2" x2="403.4" y2="228.2" stroke="#666" stroke-width="0.4"/>
<text x="402.09999999999997" y="229.0" font-size="2.6" fill="#666" text-anchor="end" font-family="'Liberation Sans', sans-serif">10<tspan font-size="1.5" dy="-0.8">0</tspan></text>
<line x1="403.4" y1="228.2" x2="403.4" y2="229.2" stroke="#666" stroke-width="0.4"/>
<text x="403.4" y="231.2" font-size="2.6" fill="#666" text-anchor="middle" font-family="'Liberation Sans', sans-serif">10<tspan font-size="1.5" dy="-0.8">0</tspan></text>
<line x1="402.4" y1="218.8" x2="403.4" y2="218.8" stroke="#666" stroke-width="0.4"/>
<text x="402.09999999999997" y="219.6" font-size="2.6" fill="#666" text-anchor="end" font-family="'Liberation Sans', sans-serif">10<tspan font-size="1.5" dy="-0.8">1</tspan></text>
<line x1="413.0" y1="228.2" x2="413.0" y2="229.2" stroke="#666" stroke-width="0.4"/>
<text x="413.0" y="231.2" font-size="2.6" fill="#666" text-anchor="middle" font-family="'Liberation Sans', sans-serif">10<tspan font-size="1.5" dy="-0.8">1</tspan></text>
<line x1="402.4" y1="209.4" x2="403.4" y2="209.4" stroke="#666" stroke-width="0.4"/>
<text x="402.09999999999997" y="210.2" font-size="2.6" fill="#666" text-anchor="end" font-family="'Liberation Sans', sans-serif">10<tspan font-size="1.5" dy="-0.8">2</tspan></text>
<line x1="422.7" y1="228.2" x2="422.7" y2="229.2" stroke="#666" stroke-width="0.4"/>
<text x="422.7" y="231.2" font-size="2.6" fill="#666" text-anchor="middle" font-family="'Liberation Sans', sans-serif">10<tspan font-size="1.5" dy="-0.8">2</tspan></text>
<line x1="402.4" y1="200.1" x2="403.4" y2="200.1" stroke="#666" stroke-width="0.4"/>
<text x="402.09999999999997" y="200.9" font-size="2.6" fill="#666" text-anchor="end" font-family="'Liberation Sans', sans-serif">10<tspan font-size="1.5" dy="-0.8">3</tspan></text>
<line x1="432.4" y1="228.2" x2="432.4" y2="229.2" stroke="#666" stroke-width="0.4"/>
<text x="432.4" y="231.2" font-size="2.6" fill="#666" text-anchor="middle" font-family="'Liberation Sans', sans-serif">10<tspan font-size="1.5" dy="-0.8">3</tspan></text>
<line x1="402.4" y1="190.7" x2="403.4" y2="190.7" stroke="#666" stroke-width="0.4"/>
<text x="402.09999999999997" y="191.5" font-size="2.6" fill="#666" text-anchor="end" font-family="'Liberation Sans', sans-serif">10<tspan font-size="1.5" dy="-0.8">4</tspan></text>
<line x1="442.0" y1="228.2" x2="442.0" y2="229.2" stroke="#666" stroke-width="0.4"/>
<text x="442.0" y="231.2" font-size="2.6" fill="#666" text-anchor="middle" font-family="'Liberation Sans', sans-serif">10<tspan font-size="1.5" dy="-0.8">4</tspan></text>
<text x="404.9" y="194.2" font-size="3" fill="#444" font-family="'Liberation Sans', sans-serif">5.60</text>
<text x="440.8" y="194.2" font-size="3" fill="#444" text-anchor="end" font-family="'Liberation Sans', sans-serif"></text>
<rect x="403.9" y="224.6" width="7" height="3.2" fill="#fff"/>
<text x="404.9" y="227.0" font-size="3" fill="#444" font-family="'Liberation Sans', sans-serif">11</text>
<rect x="434.0" y="224.6" width="7.5" height="3.2" fill="#fff"/>
<text x="440.8" y="227.0" font-size="3" fill="#444" text-anchor="end" font-family="'Liberation Sans', sans-serif">44.6</text>
<g clip-path="url(#cr2d3)"><g filter="url(#bl0)"><path d="M460 222 L472 210" fill="none" stroke="#000" stroke-width="5" stroke-opacity="0.22" stroke-linecap="round" stroke-linejoin="round"/><ellipse cx="482" cy="204" rx="10" ry="10" fill="#000" fill-opacity="0.55"/><ellipse cx="476" cy="209" rx="5" ry="6" fill="#000" fill-opacity="0.3"/><ellipse cx="463" cy="224" rx="8" ry="4" fill="#000" fill-opacity="0.12"/></g><g filter="url(#bl1)"><ellipse cx="481.5" cy="200" rx="6.5" ry="5" fill="#000" fill-opacity="0.75"/><ellipse cx="486.5" cy="208" rx="3.5" ry="6" fill="#000" fill-opacity="0.55"/></g></g><rect x="460" y="227.10000000000002" width="26" height="1.7" fill="#000" fill-opacity="0.55" filter="url(#bl2)"/>
<rect x="450.8" y="190.4" width="40.80000000000001" height="38.400000000000006" fill="none" stroke="#999" stroke-width="0.6"/>
<path d="M450.8 190.4 V228.8 H491.6" fill="none" stroke="#444" stroke-width="0.7"/>
<line x1="471.4" y1="190.4" x2="471.4" y2="228.8" stroke="#555" stroke-width="0.6"/>
<line x1="450.8" y1="219.2" x2="491.6" y2="219.2" stroke="#555" stroke-width="0.6"/>
<line x1="449.8" y1="228.8" x2="450.8" y2="228.8" stroke="#666" stroke-width="0.4"/>
<text x="449.5" y="229.6" font-size="2.6" fill="#666" text-anchor="end" font-family="'Liberation Sans', sans-serif">10<tspan font-size="1.5" dy="-0.8">0</tspan></text>
<line x1="450.8" y1="228.8" x2="450.8" y2="229.8" stroke="#666" stroke-width="0.4"/>
<text x="450.8" y="231.8" font-size="2.6" fill="#666" text-anchor="middle" font-family="'Liberation Sans', sans-serif">10<tspan font-size="1.5" dy="-0.8">0</tspan></text>
<line x1="449.8" y1="219.2" x2="450.8" y2="219.2" stroke="#666" stroke-width="0.4"/>
<text x="449.5" y="220.0" font-size="2.6" fill="#666" text-anchor="end" font-family="'Liberation Sans', sans-serif">10<tspan font-size="1.5" dy="-0.8">1</tspan></text>
<line x1="461.0" y1="228.8" x2="461.0" y2="229.8" stroke="#666" stroke-width="0.4"/>
<text x="461.0" y="231.8" font-size="2.6" fill="#666" text-anchor="middle" font-family="'Liberation Sans', sans-serif">10<tspan font-size="1.5" dy="-0.8">1</tspan></text>
<line x1="449.8" y1="209.6" x2="450.8" y2="209.6" stroke="#666" stroke-width="0.4"/>
<text x="449.5" y="210.4" font-size="2.6" fill="#666" text-anchor="end" font-family="'Liberation Sans', sans-serif">10<tspan font-size="1.5" dy="-0.8">2</tspan></text>
<line x1="471.2" y1="228.8" x2="471.2" y2="229.8" stroke="#666" stroke-width="0.4"/>
<text x="471.2" y="231.8" font-size="2.6" fill="#666" text-anchor="middle" font-family="'Liberation Sans', sans-serif">10<tspan font-size="1.5" dy="-0.8">2</tspan></text>
<line x1="449.8" y1="200.0" x2="450.8" y2="200.0" stroke="#666" stroke-width="0.4"/>
<text x="449.5" y="200.8" font-size="2.6" fill="#666" text-anchor="end" font-family="'Liberation Sans', sans-serif">10<tspan font-size="1.5" dy="-0.8">3</tspan></text>
<line x1="481.4" y1="228.8" x2="481.4" y2="229.8" stroke="#666" stroke-width="0.4"/>
<text x="481.4" y="231.8" font-size="2.6" fill="#666" text-anchor="middle" font-family="'Liberation Sans', sans-serif">10<tspan font-size="1.5" dy="-0.8">3</tspan></text>
<line x1="449.8" y1="190.4" x2="450.8" y2="190.4" stroke="#666" stroke-width="0.4"/>
<text x="449.5" y="191.2" font-size="2.6" fill="#666" text-anchor="end" font-family="'Liberation Sans', sans-serif">10<tspan font-size="1.5" dy="-0.8">4</tspan></text>
<line x1="491.6" y1="228.8" x2="491.6" y2="229.8" stroke="#666" stroke-width="0.4"/>
<text x="491.6" y="231.8" font-size="2.6" fill="#666" text-anchor="middle" font-family="'Liberation Sans', sans-serif">10<tspan font-size="1.5" dy="-0.8">4</tspan></text>
<text x="452.3" y="193.9" font-size="3" fill="#444" font-family="'Liberation Sans', sans-serif">5.88</text>
<text x="490.40000000000003" y="193.9" font-size="3" fill="#444" text-anchor="end" font-family="'Liberation Sans', sans-serif"></text>
<rect x="451.3" y="225.20000000000002" width="7" height="3.2" fill="#fff"/>
<text x="452.3" y="227.60000000000002" font-size="3" fill="#444" font-family="'Liberation Sans', sans-serif">4.07</text>
<rect x="483.6" y="225.20000000000002" width="7.5" height="3.2" fill="#fff"/>
<text x="490.40000000000003" y="227.60000000000002" font-size="3" fill="#444" text-anchor="end" font-family="'Liberation Sans', sans-serif">70.6</text>
<text x="493.6" y="155.6" font-size="6.4" font-family="'Liberation Sans', sans-serif">Control Ig</text>
<text x="497.2" y="208.3" font-size="6.4" font-family="'Liberation Sans', sans-serif">B7-H4Ig</text>
<text x="430.4" y="193" font-size="8.3" font-family="'Liberation Sans', sans-serif">34.7<tspan font-size="6" font-weight="bold" dy="-0.6">*</tspan></text>
<text x="480.2" y="193" font-size="8.3" font-family="'Liberation Sans', sans-serif">71.9<tspan font-size="6" font-weight="bold" dy="-0.6">*</tspan></text>
<line x1="271.4" y1="149" x2="271.4" y2="175.2" stroke="#222" stroke-width="0.8"/>
<polygon points="271.4,146.6 270,150.1 272.8,150.1" fill="#222"/>
<text transform="translate(274.3,190.1) rotate(-90)" font-size="6.9" text-anchor="middle" font-family="'Liberation Sans', sans-serif">CD11b<tspan font-size="4.2" dy="-2.4">+</tspan></text>
<text x="279.3" y="182.5" font-size="4.6" fill="#222" font-family="'Liberation Sans', sans-serif">Lin<tspan font-size="2.8" dy="-1.5">-</tspan><tspan dy="1.5">/depletion</tspan></text>
<line x1="306.8" y1="174.4" x2="306.8" y2="185" stroke="#222" stroke-width="0.7"/>
<polygon points="306.8,188 305.4,184.6 308.2,184.6" fill="#222"/>
<path d="M326.3 208.6 H344.5 M336.1 208.6 V153 H344.5" fill="none" stroke="#111" stroke-width="1.6"/>
<polygon points="348,208.6 344,206.4 344,210.8" fill="#111"/>
<polygon points="348,153 344,150.8 344,155.2" fill="#111"/>
<text x="329.2" y="242.8" font-size="5.9" font-family="'Liberation Sans', sans-serif">Gr-1<tspan font-size="3.5" dy="-2">+</tspan></text>
<line x1="346.7" y1="241" x2="372" y2="241" stroke="#777" stroke-width="0.9"/>
<polygon points="374.6,241 371.6,239.6 371.6,242.4" fill="#111"/>
<rect x="288.2" y="253.7" width="38.400000000000034" height="38.10000000000002" fill="none" stroke="#999" stroke-width="0.6"/>
<path d="M288.2 253.7 V291.8 H326.6" fill="none" stroke="#444" stroke-width="0.7"/>
<line x1="288.2" y1="291.40000000000003" x2="326.6" y2="291.40000000000003" stroke="#444" stroke-width="0.7"/>
<polygon points="315.3,291.5 317.7,285.3 319.0,272.3 319.8,261.0 320.5,255.8 321.3,257.7 322.3,272.3 323.4,285.3 324.5,290.5 325.5,291.5" fill="#cfcfcf" stroke="#999" stroke-width="0.5"/>
<polyline points="315.8,291.5 318.0,284.0 319.4,270.0 320.2,258.0 320.7,255.5 321.4,258.0 322.5,272.0 323.5,284.0 324.5,290.5 325.5,291.5" fill="none" stroke="#333" stroke-width="0.6"/>
<line x1="287.2" y1="291.8" x2="288.2" y2="291.8" stroke="#666" stroke-width="0.4"/>
<text x="286.9" y="292.6" font-size="2.6" fill="#666" text-anchor="end" font-family="'Liberation Sans', sans-serif">0</text>
<line x1="288.2" y1="291.8" x2="288.2" y2="292.8" stroke="#666" stroke-width="0.4"/>
<text x="288.2" y="294.8" font-size="2.6" fill="#666" text-anchor="middle" font-family="'Liberation Sans', sans-serif">10<tspan font-size="1.5" dy="-0.8">0</tspan></text>
<line x1="287.2" y1="282.3" x2="288.2" y2="282.3" stroke="#666" stroke-width="0.4"/>
<text x="286.9" y="283.1" font-size="2.6" fill="#666" text-anchor="end" font-family="'Liberation Sans', sans-serif">25</text>
<line x1="297.8" y1="291.8" x2="297.8" y2="292.8" stroke="#666" stroke-width="0.4"/>
<text x="297.8" y="294.8" font-size="2.6" fill="#666" text-anchor="middle" font-family="'Liberation Sans', sans-serif">10<tspan font-size="1.5" dy="-0.8">1</tspan></text>
<line x1="287.2" y1="272.8" x2="288.2" y2="272.8" stroke="#666" stroke-width="0.4"/>
<text x="286.9" y="273.6" font-size="2.6" fill="#666" text-anchor="end" font-family="'Liberation Sans', sans-serif">50</text>
<line x1="307.4" y1="291.8" x2="307.4" y2="292.8" stroke="#666" stroke-width="0.4"/>
<text x="307.4" y="294.8" font-size="2.6" fill="#666" text-anchor="middle" font-family="'Liberation Sans', sans-serif">10<tspan font-size="1.5" dy="-0.8">2</tspan></text>
<line x1="287.2" y1="263.2" x2="288.2" y2="263.2" stroke="#666" stroke-width="0.4"/>
<text x="286.9" y="264.0" font-size="2.6" fill="#666" text-anchor="end" font-family="'Liberation Sans', sans-serif">75</text>
<line x1="317.0" y1="291.8" x2="317.0" y2="292.8" stroke="#666" stroke-width="0.4"/>
<text x="317.0" y="294.8" font-size="2.6" fill="#666" text-anchor="middle" font-family="'Liberation Sans', sans-serif">10<tspan font-size="1.5" dy="-0.8">3</tspan></text>
<line x1="287.2" y1="253.7" x2="288.2" y2="253.7" stroke="#666" stroke-width="0.4"/>
<text x="286.9" y="254.5" font-size="2.6" fill="#666" text-anchor="end" font-family="'Liberation Sans', sans-serif">100</text>
<line x1="326.6" y1="291.8" x2="326.6" y2="292.8" stroke="#666" stroke-width="0.4"/>
<text x="326.6" y="294.8" font-size="2.6" fill="#666" text-anchor="middle" font-family="'Liberation Sans', sans-serif">10<tspan font-size="1.5" dy="-0.8">4</tspan></text>
<rect x="355.4" y="253.7" width="38.80000000000001" height="38.10000000000002" fill="none" stroke="#999" stroke-width="0.6"/>
<path d="M355.4 253.7 V291.8 H394.2" fill="none" stroke="#444" stroke-width="0.7"/>
<line x1="355.4" y1="291.40000000000003" x2="394.2" y2="291.40000000000003" stroke="#444" stroke-width="0.7"/>
<polygon points="383.3,291.5 386.5,280.5 387.7,261.0 388.6,256.1 389.6,258.6 390.9,277.2 392.2,288.6 393.5,291.5" fill="#cfcfcf" stroke="#999" stroke-width="0.5"/>
<polyline points="383.6,291.5 386.7,280.0 388.0,260.0 388.8,255.8 389.8,258.5 391.0,277.0 392.2,288.6 393.5,291.5" fill="none" stroke="#333" stroke-width="0.6"/>
<line x1="354.4" y1="291.8" x2="355.4" y2="291.8" stroke="#666" stroke-width="0.4"/>
<text x="354.09999999999997" y="292.6" font-size="2.6" fill="#666" text-anchor="end" font-family="'Liberation Sans', sans-serif">0</text>
<line x1="355.4" y1="291.8" x2="355.4" y2="292.8" stroke="#666" stroke-width="0.4"/>
<text x="355.4" y="294.8" font-size="2.6" fill="#666" text-anchor="middle" font-family="'Liberation Sans', sans-serif">10<tspan font-size="1.5" dy="-0.8">0</tspan></text>
<line x1="354.4" y1="282.3" x2="355.4" y2="282.3" stroke="#666" stroke-width="0.4"/>
<text x="354.09999999999997" y="283.1" font-size="2.6" fill="#666" text-anchor="end" font-family="'Liberation Sans', sans-serif">25</text>
<line x1="365.1" y1="291.8" x2="365.1" y2="292.8" stroke="#666" stroke-width="0.4"/>
<text x="365.1" y="294.8" font-size="2.6" fill="#666" text-anchor="middle" font-family="'Liberation Sans', sans-serif">10<tspan font-size="1.5" dy="-0.8">1</tspan></text>
<line x1="354.4" y1="272.8" x2="355.4" y2="272.8" stroke="#666" stroke-width="0.4"/>
<text x="354.09999999999997" y="273.6" font-size="2.6" fill="#666" text-anchor="end" font-family="'Liberation Sans', sans-serif">50</text>
<line x1="374.8" y1="291.8" x2="374.8" y2="292.8" stroke="#666" stroke-width="0.4"/>
<text x="374.8" y="294.8" font-size="2.6" fill="#666" text-anchor="middle" font-family="'Liberation Sans', sans-serif">10<tspan font-size="1.5" dy="-0.8">2</tspan></text>
<line x1="354.4" y1="263.2" x2="355.4" y2="263.2" stroke="#666" stroke-width="0.4"/>
<text x="354.09999999999997" y="264.0" font-size="2.6" fill="#666" text-anchor="end" font-family="'Liberation Sans', sans-serif">75</text>
<line x1="384.5" y1="291.8" x2="384.5" y2="292.8" stroke="#666" stroke-width="0.4"/>
<text x="384.5" y="294.8" font-size="2.6" fill="#666" text-anchor="middle" font-family="'Liberation Sans', sans-serif">10<tspan font-size="1.5" dy="-0.8">3</tspan></text>
<line x1="354.4" y1="253.7" x2="355.4" y2="253.7" stroke="#666" stroke-width="0.4"/>
<text x="354.09999999999997" y="254.5" font-size="2.6" fill="#666" text-anchor="end" font-family="'Liberation Sans', sans-serif">100</text>
<line x1="394.2" y1="291.8" x2="394.2" y2="292.8" stroke="#666" stroke-width="0.4"/>
<text x="394.2" y="294.8" font-size="2.6" fill="#666" text-anchor="middle" font-family="'Liberation Sans', sans-serif">10<tspan font-size="1.5" dy="-0.8">4</tspan></text>
<rect x="404.0" y="253.7" width="38.60000000000002" height="38.10000000000002" fill="none" stroke="#999" stroke-width="0.6"/>
<path d="M404.0 253.7 V291.8 H442.6" fill="none" stroke="#444" stroke-width="0.7"/>
<line x1="404.0" y1="291.40000000000003" x2="442.6" y2="291.40000000000003" stroke="#444" stroke-width="0.7"/>
<polygon points="422.4,291.5 423.5,275.0 424.5,260.0 425.3,256.1 426.5,262.0 427.5,275.0 428.5,285.0 429.7,291.3" fill="#cfcfcf" stroke="#999" stroke-width="0.5"/>
<polyline points="424.8,291.5 426.0,280.0 427.2,263.4 428.8,255.8 430.5,269.0 432.0,280.5 433.7,283.0 436.1,284.5 437.8,287.0 439.4,290.2 441.0,291.5" fill="none" stroke="#333" stroke-width="0.6"/>
<line x1="403.0" y1="291.8" x2="404.0" y2="291.8" stroke="#666" stroke-width="0.4"/>
<text x="402.7" y="292.6" font-size="2.6" fill="#666" text-anchor="end" font-family="'Liberation Sans', sans-serif">0</text>
<line x1="404.0" y1="291.8" x2="404.0" y2="292.8" stroke="#666" stroke-width="0.4"/>
<text x="404.0" y="294.8" font-size="2.6" fill="#666" text-anchor="middle" font-family="'Liberation Sans', sans-serif">10<tspan font-size="1.5" dy="-0.8">0</tspan></text>
<line x1="403.0" y1="282.3" x2="404.0" y2="282.3" stroke="#666" stroke-width="0.4"/>
<text x="402.7" y="283.1" font-size="2.6" fill="#666" text-anchor="end" font-family="'Liberation Sans', sans-serif">25</text>
<line x1="413.6" y1="291.8" x2="413.6" y2="292.8" stroke="#666" stroke-width="0.4"/>
<text x="413.6" y="294.8" font-size="2.6" fill="#666" text-anchor="middle" font-family="'Liberation Sans', sans-serif">10<tspan font-size="1.5" dy="-0.8">1</tspan></text>
<line x1="403.0" y1="272.8" x2="404.0" y2="272.8" stroke="#666" stroke-width="0.4"/>
<text x="402.7" y="273.6" font-size="2.6" fill="#666" text-anchor="end" font-family="'Liberation Sans', sans-serif">50</text>
<line x1="423.3" y1="291.8" x2="423.3" y2="292.8" stroke="#666" stroke-width="0.4"/>
<text x="423.3" y="294.8" font-size="2.6" fill="#666" text-anchor="middle" font-family="'Liberation Sans', sans-serif">10<tspan font-size="1.5" dy="-0.8">2</tspan></text>
<line x1="403.0" y1="263.2" x2="404.0" y2="263.2" stroke="#666" stroke-width="0.4"/>
<text x="402.7" y="264.0" font-size="2.6" fill="#666" text-anchor="end" font-family="'Liberation Sans', sans-serif">75</text>
<line x1="433.0" y1="291.8" x2="433.0" y2="292.8" stroke="#666" stroke-width="0.4"/>
<text x="433.0" y="294.8" font-size="2.6" fill="#666" text-anchor="middle" font-family="'Liberation Sans', sans-serif">10<tspan font-size="1.5" dy="-0.8">3</tspan></text>
<line x1="403.0" y1="253.7" x2="404.0" y2="253.7" stroke="#666" stroke-width="0.4"/>
<text x="402.7" y="254.5" font-size="2.6" fill="#666" text-anchor="end" font-family="'Liberation Sans', sans-serif">100</text>
<line x1="442.6" y1="291.8" x2="442.6" y2="292.8" stroke="#666" stroke-width="0.4"/>
<text x="442.6" y="294.8" font-size="2.6" fill="#666" text-anchor="middle" font-family="'Liberation Sans', sans-serif">10<tspan font-size="1.5" dy="-0.8">4</tspan></text>
<rect x="450.0" y="253.7" width="38.60000000000002" height="38.10000000000002" fill="none" stroke="#999" stroke-width="0.6"/>
<path d="M450.0 253.7 V291.8 H488.6" fill="none" stroke="#444" stroke-width="0.7"/>
<line x1="450.0" y1="291.40000000000003" x2="488.6" y2="291.40000000000003" stroke="#444" stroke-width="0.7"/>
<polygon points="462.7,291.5 464.0,278.0 465.5,262.0 466.4,256.1 467.5,260.0 469.0,275.0 470.8,291.0" fill="#cfcfcf" stroke="#999" stroke-width="0.5"/>
<polyline points="463.5,291.5 465.5,275.0 467.0,260.0 468.0,255.3 469.6,267.5 471.6,283.7 474.0,289.4 478.9,290.5 481.3,289.9 484.6,291.5" fill="none" stroke="#333" stroke-width="0.6"/>
<line x1="449.0" y1="291.8" x2="450.0" y2="291.8" stroke="#666" stroke-width="0.4"/>
<text x="448.7" y="292.6" font-size="2.6" fill="#666" text-anchor="end" font-family="'Liberation Sans', sans-serif">0</text>
<line x1="450.0" y1="291.8" x2="450.0" y2="292.8" stroke="#666" stroke-width="0.4"/>
<text x="450.0" y="294.8" font-size="2.6" fill="#666" text-anchor="middle" font-family="'Liberation Sans', sans-serif">10<tspan font-size="1.5" dy="-0.8">0</tspan></text>
<line x1="449.0" y1="282.3" x2="450.0" y2="282.3" stroke="#666" stroke-width="0.4"/>
<text x="448.7" y="283.1" font-size="2.6" fill="#666" text-anchor="end" font-family="'Liberation Sans', sans-serif">25</text>
<line x1="459.6" y1="291.8" x2="459.6" y2="292.8" stroke="#666" stroke-width="0.4"/>
<text x="459.6" y="294.8" font-size="2.6" fill="#666" text-anchor="middle" font-family="'Liberation Sans', sans-serif">10<tspan font-size="1.5" dy="-0.8">1</tspan></text>
<line x1="449.0" y1="272.8" x2="450.0" y2="272.8" stroke="#666" stroke-width="0.4"/>
<text x="448.7" y="273.6" font-size="2.6" fill="#666" text-anchor="end" font-family="'Liberation Sans', sans-serif">50</text>
<line x1="469.3" y1="291.8" x2="469.3" y2="292.8" stroke="#666" stroke-width="0.4"/>
<text x="469.3" y="294.8" font-size="2.6" fill="#666" text-anchor="middle" font-family="'Liberation Sans', sans-serif">10<tspan font-size="1.5" dy="-0.8">2</tspan></text>
<line x1="449.0" y1="263.2" x2="450.0" y2="263.2" stroke="#666" stroke-width="0.4"/>
<text x="448.7" y="264.0" font-size="2.6" fill="#666" text-anchor="end" font-family="'Liberation Sans', sans-serif">75</text>
<line x1="479.0" y1="291.8" x2="479.0" y2="292.8" stroke="#666" stroke-width="0.4"/>
<text x="479.0" y="294.8" font-size="2.6" fill="#666" text-anchor="middle" font-family="'Liberation Sans', sans-serif">10<tspan font-size="1.5" dy="-0.8">3</tspan></text>
<line x1="449.0" y1="253.7" x2="450.0" y2="253.7" stroke="#666" stroke-width="0.4"/>
<text x="448.7" y="254.5" font-size="2.6" fill="#666" text-anchor="end" font-family="'Liberation Sans', sans-serif">100</text>
<line x1="488.6" y1="291.8" x2="488.6" y2="292.8" stroke="#666" stroke-width="0.4"/>
<text x="488.6" y="294.8" font-size="2.6" fill="#666" text-anchor="middle" font-family="'Liberation Sans', sans-serif">10<tspan font-size="1.5" dy="-0.8">4</tspan></text>
<text transform="translate(275.4,271.8) rotate(-90)" font-size="6.1" text-anchor="middle" font-family="'Liberation Sans', sans-serif">Cell Number</text>
<text x="329.6" y="307.3" font-size="6.1" font-family="'Liberation Sans', sans-serif">CFSE</text>
<line x1="349.3" y1="305.5" x2="374.5" y2="305.5" stroke="#333" stroke-width="0.7"/>
<polygon points="377,305.5 374,304.1 374,306.9" fill="#222"/>
</svg>
</body></html>
